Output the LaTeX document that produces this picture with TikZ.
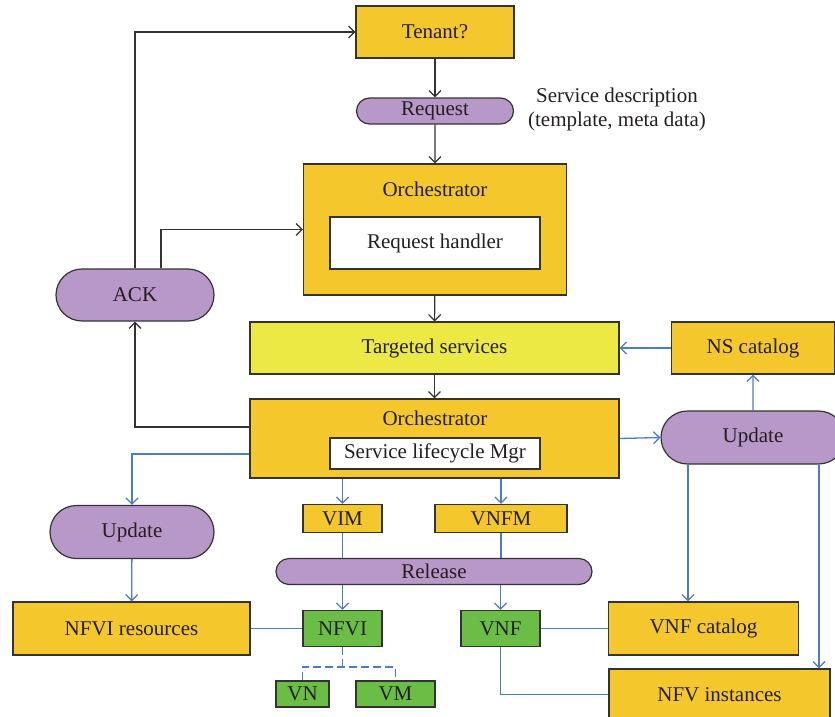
\documentclass[tikz,border=0pt]{standalone}
\usepackage{fontspec}
\setmainfont{Liberation Serif}
\usetikzlibrary{arrows.meta,shapes.misc}
\definecolor{oro}{HTML}{F4C72C}
\definecolor{lila}{HTML}{B898C8}
\definecolor{verde}{HTML}{6BBE45}
\definecolor{limon}{HTML}{ECE945}
\definecolor{azul}{HTML}{4A7CC8}
\definecolor{borde}{HTML}{333333}
\definecolor{tinta}{HTML}{231F20}

\begin{document}
\begin{tikzpicture}[x=1pt,y=-1pt,
  font=\fontsize{21}{24}\selectfont, text=tinta,
  tam/.style 2 args={minimum width=#1, minimum height=#2},
  caja/.style={draw=borde, line width=1.2pt, fill=oro, inner sep=0pt},
  blanca/.style={caja, fill=white},
  hoja/.style={caja, fill=verde},
  pildora/.style={caja, fill=lila, rounded rectangle},
  flecha/.style={draw=borde, line width=1.2pt, -{Straight Barb[length=6pt,width=12pt]}},
  linea/.style={draw=azul, line width=1.3pt},
  flechaazul/.style={linea, -{Straight Barb[length=6pt,width=12pt]}}]
  \useasboundingbox (0,0) rectangle (835,716);

  % Parte superior
  \node[caja, tam={158}{52}] (tenant) at (435,32) {Tenant?};
  \node[pildora, tam={157}{26}] (request) at (435,111) {Request};
  \node[align=center] (desc) at (617,109) {Service description\\(template, meta data)};
  \node[caja, tam={263}{131}] (orch1) at (435,229.5) {};
  \node (titulo1) at (435,189) {Orchestrator};
  \node[blanca, tam={210}{52}] (handler) at (435,243) {Request handler};
  \node[pildora, tam={158}{52}] (ack) at (135,295) {ACK};

  % Servicios y catalogo
  \node[caja, fill=limon, tam={369}{52}] (targeted) at (434.5,348) {Targeted services};
  \node[caja, tam={163}{52}] (nscat) at (753,348) {NS catalog};
  \node[caja, tam={369}{79}] (orch2) at (434.5,438.5) {};
  \node (titulo2) at (435,418) {Orchestrator};
  \node[blanca, tam={210}{31}] (slm) at (435,453.5) {Service lifecycle Mgr};
  \node[pildora, tam={184}{53}] (upd1) at (753,437.5) {Update};
  \node[pildora, tam={164}{53}] (upd2) at (132,532) {Update};

  % Gestores y recursos
  \node[caja, tam={79}{28}] (vim) at (342.5,518.5) {VIM};
  \node[caja, tam={132}{28}] (vnfm) at (501,518.5) {VNFM};
  \node[pildora, tam={316}{26}] (release) at (434,571.5) {Release};
  \node[caja, tam={237}{53}] (nfvires) at (131.5,628.5) {NFVI resources};
  \node[hoja, tam={79}{36}] (nfvi) at (342.5,628.5) {NFVI};
  \node[hoja, tam={79}{36}] (vnf) at (500.5,628.5) {VNF};
  \node[caja, tam={190}{53}] (vnfcat) at (703.5,628.5) {VNF catalog};
  \node[caja, tam={221}{51}] (nfvinst) at (719.5,694.5) {NFV instances};
  \node[hoja, tam={53}{26}] (vn) at (302.5,694) {VN};
  \node[hoja, tam={79}{26}] (vm) at (395.5,694) {VM};

  % Flujo principal (negro)
  \draw[flecha] (tenant) -- (request);
  \draw[flecha] (request) -- (orch1);
  \draw[flecha] (orch1) -- (targeted);
  \draw[flecha] (targeted) -- (orch2);
  \draw[flecha] (ack.north) |- (tenant.west);
  \draw[flecha] ([xshift=26pt]ack.north) |- (orch1.west);
  \draw[flecha] ([yshift=11.5pt]orch2.west) -| (ack.south);

  % Conexiones azules
  \draw[flechaazul] (nscat) -- (targeted);
  \draw[flechaazul] (orch2.east) -- (upd1.west);
  \draw[flechaazul] (upd1) -- (nscat);
  \draw[flechaazul] ([xshift=-65pt]upd1.south) -- ([xshift=-65pt]upd1.south |- vnfcat.north);
  \draw[flechaazul] ([xshift=66pt]upd1.south) -- ([xshift=66pt]upd1.south |- nfvinst.north);
  \draw[flechaazul] ([yshift=-15.5pt]orch2.west) -| (upd2.north);
  \draw[flechaazul] (upd2) -- (nfvires);
  \draw[linea] (nfvires) -- (nfvi);
  \foreach \g/\r in {vim/nfvi, vnfm/vnf} {
    \draw[flechaazul] (\g.north |- orch2.south) -- (\g.north);
    \draw[linea] (\g.south) -- (\g.south |- release.north);
    \draw[flechaazul] (\r.north |- release.south) -- (\r.north);
  }
  \draw[linea] (vnf) -- (vnfcat);
  \draw[linea] (vnf.south) |- (nfvinst.west);

  % Ramas punteadas
  \coordinate (rama) at ([yshift=-20pt]nfvi.south);
  \draw[linea, dash pattern=on 8pt off 4pt] (nfvi.south) -- (rama);
  \draw[linea, dash pattern=on 8pt off 4pt] (vn.north) |- (rama) -| (vm.north);
\end{tikzpicture}
\end{document}
